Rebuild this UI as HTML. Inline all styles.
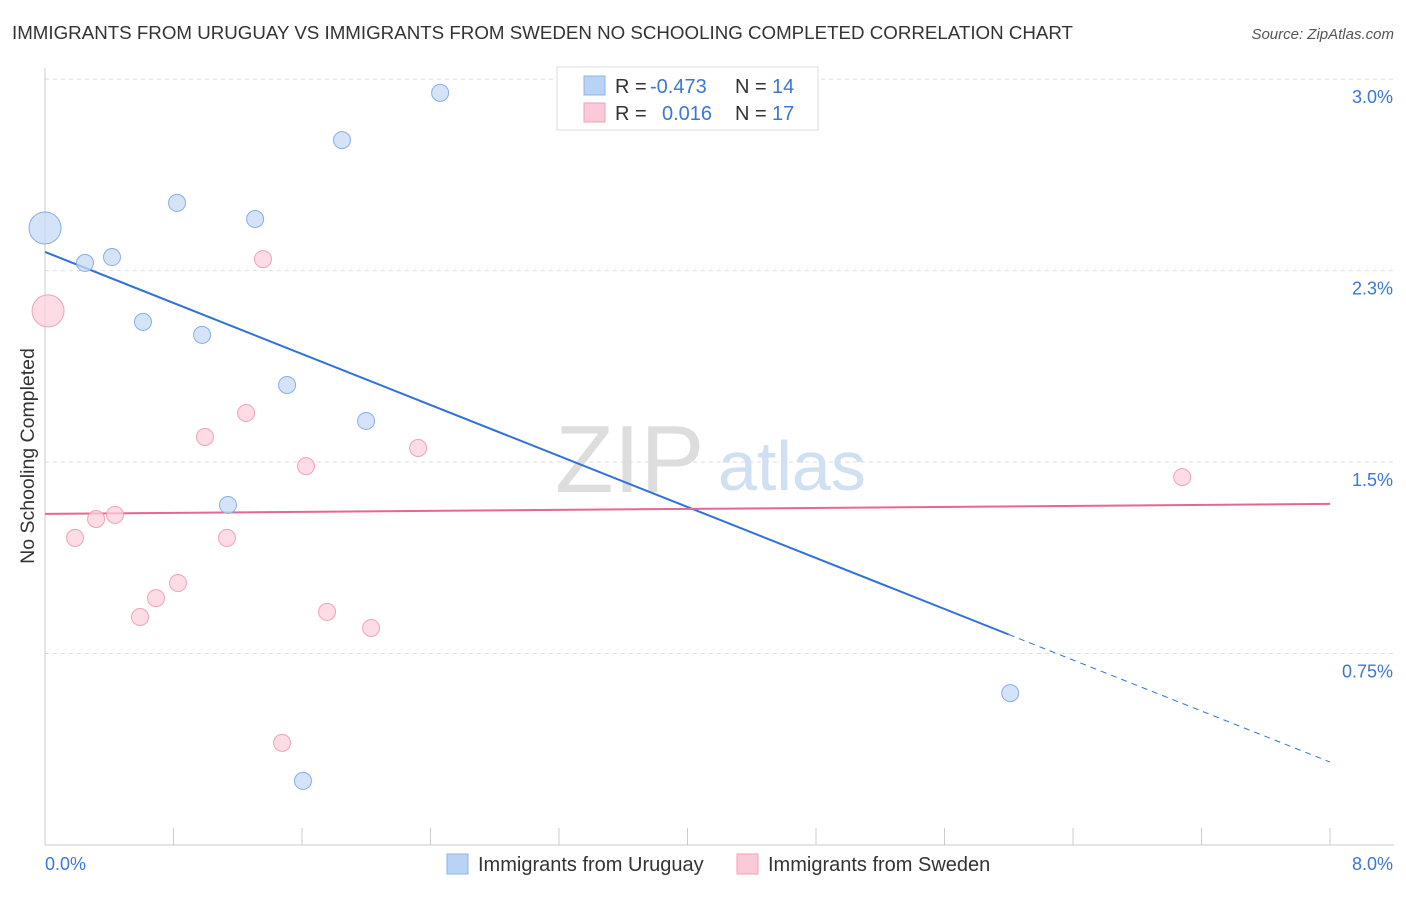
<!DOCTYPE html>
<html><head><meta charset="utf-8"><style>
body{margin:0;background:#fff;font-family:"Liberation Sans",sans-serif}
svg text{font-family:"Liberation Sans",sans-serif}
</style></head><body>
<svg width="1406" height="892" viewBox="0 0 1406 892">
<text x="12" y="39" font-size="18" fill="#333" textLength="1061" lengthAdjust="spacingAndGlyphs">IMMIGRANTS FROM URUGUAY VS IMMIGRANTS FROM SWEDEN NO SCHOOLING COMPLETED CORRELATION CHART</text>
<text x="1394" y="39" font-size="15" fill="#555" font-style="italic" text-anchor="end">Source: ZipAtlas.com</text>
<g id="grid"></g>
<g id="axes"></g>
<text x="555" y="492" font-size="96" fill="#ddd" font-family="Liberation Serif">ZIP</text>
<text x="718" y="490" font-size="70" fill="#cfe0f2">atlas</text>
<g id="lines"></g>
<g id="pts"></g>
<text transform="translate(34,456) rotate(-90)" font-size="19.5" fill="#333" text-anchor="middle">No Schooling Completed</text>
<g>
<rect x="557" y="67" width="261" height="63" fill="#fff" stroke="#ddd"/>
<rect x="584" y="76" width="21" height="19" fill="#b9d3f5" stroke="#8fb4e8"/>
<rect x="584" y="103" width="21" height="19" fill="#fcc9d8" stroke="#f0a0b8"/>
<text x="615" y="93" font-size="20" fill="#333">R = <tspan fill="#3a78d4" x="650">-0.473</tspan></text>
<text x="735" y="93" font-size="20" fill="#333">N = <tspan fill="#3a78d4" x="772">14</tspan></text>
<text x="615" y="120" font-size="20" fill="#333">R = <tspan fill="#3a78d4" x="662">0.016</tspan></text>
<text x="735" y="120" font-size="20" fill="#333">N = <tspan fill="#3a78d4" x="772">17</tspan></text>
</g>
<g>
<rect x="447" y="854" width="21" height="20" fill="#b9d3f5" stroke="#8fb4e8"/>
<text x="478" y="871" font-size="20" fill="#333">Immigrants from Uruguay</text>
<rect x="737" y="854" width="21" height="20" fill="#fcc9d8" stroke="#f0a0b8"/>
<text x="768" y="871" font-size="20" fill="#333">Immigrants from Sweden</text>
</g>
</svg>
<script>
const blueX=[0,0.249,0.417,0.822,1.308,1.849,2.46,0.61,0.978,1.507,1.999,1.139,6.009,1.606];
const blueY=[2.417,2.28,2.303,2.515,2.452,2.761,2.946,2.049,1.998,1.802,1.661,1.332,0.595,0.251];
const pinkX=[0.019,1.357,1.252,0.996,1.625,2.323,7.08,0.187,0.318,0.436,1.133,0.828,0.691,0.592,1.756,2.03,1.476];
const pinkY=[2.092,2.295,1.692,1.598,1.484,1.555,1.441,1.203,1.277,1.293,1.203,1.026,0.967,0.893,0.913,0.85,0.4];
const yTicks=[0.75,1.5,2.25,3.0];
const yTickLabels=["0.75%","1.5%","2.3%","3.0%"];
const xTicks=[0,0.8,1.6,2.4,3.2,4.0,4.8,5.6,6.4,7.2,8.0];
const blueTrend=[2.323,0.325];
const blueSolidEnd=6.0;
const pinkTrend=[1.297,1.336];
const NS='http://www.w3.org/2000/svg';
const X=v=>45+v*160.625, Y=v=>845-v*255.3;
function mk(t,a,p){const e=document.createElementNS(NS,t);for(const k in a)e.setAttribute(k,a[k]);document.getElementById(p).appendChild(e);return e;}
yTicks.forEach((t,i)=>{
 const g=mk('line',{x1:45,x2:1394,y1:Y(t),y2:Y(t),stroke:'#ddd','stroke-dasharray':'4,4'},'grid');
 
 
 const tx=mk('text',{x:1393,y:Y(t)+24,'font-size':18,fill:'#3a78d4','text-anchor':'end'},'grid');
 tx.textContent=yTickLabels[i];
 
 
});
const ax=mk('line',{x1:45,x2:1394,y1:845,y2:845,stroke:'#ccc'},'axes');


const ay=mk('line',{x1:45,x2:45,y1:68,y2:845,stroke:'#ccc'},'axes');


xTicks.forEach(t=>{
 const l=mk('line',{x1:X(t),x2:X(t),y1:828,y2:845,stroke:'#ccc'},'axes');
 
 
});
const x0=mk('text',{x:45,y:870,'font-size':18,fill:'#3a78d4'},'axes');x0.textContent='0.0%';


const x1=mk('text',{x:1393,y:870,'font-size':18,fill:'#3a78d4','text-anchor':'end'},'axes');x1.textContent='8.0%';


const bAt=x=>blueTrend[0]+(blueTrend[1]-blueTrend[0])*x/8;
const bl=mk('line',{x1:X(0),y1:Y(blueTrend[0]),x2:X(blueSolidEnd),y2:Y(bAt(blueSolidEnd)),stroke:'#2f72d8','stroke-width':2},'lines');


const bd=mk('line',{x1:X(blueSolidEnd),y1:Y(bAt(blueSolidEnd)),x2:X(8),y2:Y(blueTrend[1]),stroke:'#2f72d8','stroke-width':1,'stroke-dasharray':'6,5'},'lines');


const pl=mk('line',{x1:X(0),y1:Y(pinkTrend[0]),x2:X(8),y2:Y(pinkTrend[1]),stroke:'#e8668f','stroke-width':2},'lines');


function dots(xs,ys,fill,stroke,name){xs.forEach((x,i)=>{
 const r=i===0?16:8.5;
 const c=mk('circle',{cx:X(x),cy:Y(ys[i]),r:r,fill:fill,stroke:stroke,'stroke-width':1,'fill-opacity':0.75},'pts');
 
 
});}
dots(pinkX,pinkY,'#fcd0dd','#eea3bb','sweden-point');
dots(blueX,blueY,'#c5daf6','#88aee6','uruguay-point');
</script>
</body></html>
